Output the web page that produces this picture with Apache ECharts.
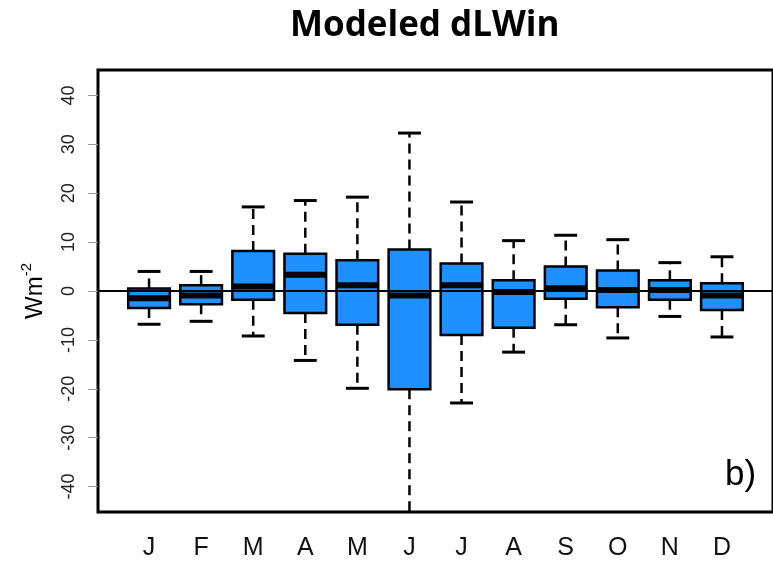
<!DOCTYPE html>
<html>
<head>
<meta charset="utf-8">
<script src="https://cdn.jsdelivr.net/npm/echarts@6/dist/echarts.min.js"></script>
<style>html,body{margin:0;padding:0;background:#fff}#c{width:773px;height:561px}</style>
</head>
<body>
<div id="c"></div>
<script>
// Month categories (x positions 1..12)
const months = ['J','F','M','A','M','J','J','A','S','O','N','D'];
// Box statistics (Wm-2)
const whiskerLow = [-6.8, -6.2, -9.2, -14.2, -19.9, -50, -22.9, -12.5, -6.9, -9.6, -5.2, -9.4];
const q1         = [-3.5, -2.7, -1.8, -4.5, -6.9, -20.1, -9.0, -7.5, -1.6, -3.3, -1.8, -3.9];
const median     = [-1.5, -0.9, 0.9, 3.3, 1.2, -0.9, 1.2, -0.2, 0.55, 0.2, 0.2, -0.9];
const q3         = [0.5, 1.2, 8.2, 7.6, 6.3, 8.5, 5.65, 2.2, 5.0, 4.2, 2.2, 1.6];
const whiskerHigh= [4.0, 4.0, 17.2, 18.5, 19.2, 32.3, 18.2, 10.3, 11.4, 10.5, 5.8, 7.0];
const yTicks = [-40, -30, -20, -10, 0, 10, 20, 30, 40];
const xTicks = [1,2,3,4,5,6,7,8,9,10,11,12];

const data = months.map((m, i) => [i + 1, whiskerLow[i], q1[i], median[i], q3[i], whiskerHigh[i]]);

const BOX_W = 0.8, CAP_W = 0.44;
const dash = [10, 6];

function renderItem(params, api) {
  const x = api.value(0);
  const lo = api.coord([x, api.value(1)]);
  const b1 = api.coord([x, api.value(2)]);
  const md = api.coord([x, api.value(3)]);
  const b3 = api.coord([x, api.value(4)]);
  const hi = api.coord([x, api.value(5)]);
  const hw = api.size([BOX_W, 0])[0] / 2;
  const cw = api.size([CAP_W, 0])[0] / 2;
  const cx = lo[0];
  const wStyle = { stroke: '#000', lineWidth: 2.5, lineDash: dash };
  const cStyle = { stroke: '#000', lineWidth: 3 };
  return {
    type: 'group',
    children: [
      { type: 'line', shape: { x1: cx, y1: b3[1], x2: cx, y2: hi[1] }, style: wStyle },
      { type: 'line', shape: { x1: cx, y1: b1[1], x2: cx, y2: lo[1] }, style: wStyle },
      { type: 'line', shape: { x1: cx - cw, y1: hi[1], x2: cx + cw, y2: hi[1] }, style: cStyle },
      { type: 'line', shape: { x1: cx - cw, y1: lo[1], x2: cx + cw, y2: lo[1] }, style: cStyle },
      { type: 'rect', shape: { x: cx - hw, y: b3[1], width: hw * 2, height: b1[1] - b3[1] },
        style: { fill: '#1E90FF', stroke: '#000', lineWidth: 2.5 } },
      { type: 'line', shape: { x1: cx - hw, y1: md[1], x2: cx + hw, y2: md[1] },
        style: { stroke: '#000', lineWidth: 6, lineCap: 'butt' } }
    ]
  };
}

const chart = echarts.init(document.getElementById('c'), null, { renderer: 'canvas' });
chart.setOption({
  animation: false,
  backgroundColor: '#fff',
  title: {
    text: 'Modeled dLWin',
    left: 290, top: 9, padding: 0,
    textStyle: { fontFamily: 'Open Sans', fontWeight: 'bold', fontSize: 35, color: '#000' }
  },
  grid: {
    left: 98, top: 70, width: 682, height: 443,
    show: true, borderColor: '#000', borderWidth: 3, backgroundColor: 'transparent'
  },
  xAxis: {
    type: 'value', min: 0.02, max: 12.98,
    splitLine: { show: false },
    axisLine: { show: false },
    axisTick: { show: true, length: 10, inside: false, customValues: xTicks,
      lineStyle: { color: '#999', width: 1 } },
    axisLabel: { customValues: xTicks, margin: 24,
      formatter: v => months[Math.round(v) - 1] || '',
      fontFamily: 'Liberation Sans', fontSize: 25, color: '#111' }
  },
  yAxis: {
    type: 'value', min: -45.2, max: 45.2,
    splitLine: { show: false },
    axisLine: { show: false },
    axisTick: { show: true, length: 10, customValues: yTicks,
      lineStyle: { color: '#999', width: 1 } },
    axisLabel: { customValues: yTicks, rotate: 90, margin: 20,
      fontFamily: 'Liberation Sans', fontSize: 18, color: '#222' },
    name: '{a|Wm}{b|-2}',
    nameLocation: 'middle', nameRotate: 90, nameGap: 47,
    nameTextStyle: {
      rich: {
        a: { fontFamily: 'Liberation Sans', fontSize: 24, color: '#000', lineHeight: 32 },
        b: { fontFamily: 'Liberation Sans', fontSize: 15, color: '#000', verticalAlign: 'top', lineHeight: 32 }
      }
    }
  },
  graphic: [
    { type: 'text', left: 725, top: 458,
      style: { text: 'b)', fontFamily: 'Liberation Sans', fontSize: 35, fill: '#000' } }
  ],
  series: [{
    type: 'custom',
    renderItem: renderItem,
    clip: true,
    data: data,
    encode: { x: 0, y: [1, 2, 3, 4, 5] },
    markLine: {
      silent: true, symbol: 'none', label: { show: false },
      lineStyle: { color: '#000', width: 2, type: 'solid' },
      data: [{ yAxis: 0 }]
    }
  }]
});
</script>
</body>
</html>
